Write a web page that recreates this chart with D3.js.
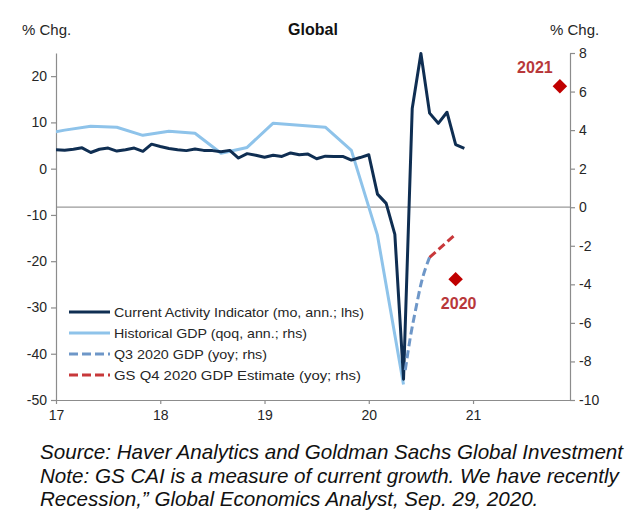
<!DOCTYPE html>
<html><head><meta charset="utf-8">
<script src="https://cdn.jsdelivr.net/npm/d3@7/dist/d3.min.js"></script>
<style>
html,body{margin:0;padding:0;background:#fff;}
svg{display:block;font-family:"Liberation Sans",Arial,sans-serif;}
</style></head>
<body>
<svg id="c" width="630" height="518"></svg>
<script>
// ---- data ----
const xTickValues = [2017, 2018, 2019, 2020, 2021];
const xTickLabels = ["17", "18", "19", "20", "21"];
const leftTicks = [-50, -40, -30, -20, -10, 0, 10, 20];
const rightTicks = [-10, -8, -6, -4, -2, 0, 2, 4, 6, 8];

// Current Activity Indicator, monthly Jan 2017 - Dec 2020 (lhs)
const caiStart = 2017;
const caiValues = [
  4.1, 4.0, 4.2, 4.5, 3.5, 4.2, 4.45, 3.8, 4.1, 4.45, 3.75, 5.3,
  4.8, 4.35, 4.1, 3.9, 4.25, 3.95, 3.9, 3.65, 3.95, 2.3, 3.25, 2.9,
  2.45, 2.9, 2.65, 3.4, 3.0, 3.15, 2.15, 2.7, 2.65, 2.65, 1.85, 2.4,
  3.0, -5.5, -7.5, -14.2, -45.5, 13.0, 24.9, 12.0, 9.8, 12.2, 5.2, 4.4
];
// Historical GDP, quarterly (plotted at mid-quarter month), Q4 2016 - Q2 2020 (rhs)
const gdpDates = [2016.833, 2017.083, 2017.333, 2017.583, 2017.833, 2018.083, 2018.333, 2018.583,
  2018.833, 2019.083, 2019.333, 2019.583, 2019.833, 2020.083, 2020.333];
const gdpValues = [3.75, 4.0, 4.2, 4.15, 3.73, 3.94, 3.84, 2.8, 3.1, 4.36, 4.25, 4.15, 2.95, -1.45, -9.2];
// Q3 2020 GDP (yoy; rhs)
const q3Dates = [2020.35, 2020.40, 2020.45, 2020.50, 2020.583];
const q3Values = [-8.45, -6.7, -5.3, -4.0, -2.6];
// GS Q4 2020 GDP estimate (yoy; rhs)
const q4Dates = [2020.583, 2020.667, 2020.833];
const q4Values = [-2.6, -2.2, -1.4];
// Annual markers (rhs)
const annualLabels = ["2020", "2021"];
const annualDates = [2020.833, 2021.833];
const annualValues = [-3.73, 6.27];

const legendLabels = [
  "Current Activity Indicator (mo, ann.; lhs)",
  "Historical GDP (qoq, ann.; rhs)",
  "Q3 2020 GDP (yoy; rhs)",
  "GS Q4 2020 GDP Estimate (yoy; rhs)"
];
const footerLines = [
  "Source: Haver Analytics and Goldman Sachs Global Investment",
  "Note: GS CAI is a measure of current growth. We have recently",
  "Recession,\u201d Global Economics Analyst, Sep. 29, 2020."
];

// ---- chart ----
const svg = d3.select("#c");
const L = 56, R = 570, T = 53, B = 400;
const x = d3.scaleLinear().domain([2017, 2021.93]).range([L, R]);
const yL = d3.scaleLinear().domain([-50, 25]).range([B, T]);
const yR = d3.scaleLinear().domain([-10, 8]).range([B, T]);

const axisColor = "#8c8c8c";
const textColor = "#262626";

svg.append("defs").append("clipPath").attr("id", "clip")
  .append("rect").attr("x", L).attr("y", 0).attr("width", R - L).attr("height", B);

// zero line (rhs)
svg.append("line").attr("x1", L).attr("x2", R).attr("y1", yR(0)).attr("y2", yR(0))
  .attr("stroke", "#9a9a9a").attr("stroke-width", 1.2);

function styleAxis(g) {
  g.selectAll("path,line").attr("stroke", axisColor).attr("stroke-width", 1.2);
  g.selectAll("text").attr("fill", textColor).style("font-size", "14px")
    .style("font-family", "'Liberation Sans', Arial, sans-serif");
}
const plain = d => String(d);

const gl = svg.append("g").attr("transform", `translate(${L},0)`)
  .call(d3.axisLeft(yL).tickValues(leftTicks).tickFormat(plain).tickSize(5).tickSizeOuter(0).tickPadding(4));
styleAxis(gl);
const gr = svg.append("g").attr("transform", `translate(${R},0)`)
  .call(d3.axisRight(yR).tickValues(rightTicks).tickFormat(plain).tickSize(5).tickSizeOuter(0).tickPadding(4));
styleAxis(gr);
const gb = svg.append("g").attr("transform", `translate(0,${B})`)
  .call(d3.axisBottom(x).tickValues(xTickValues).tickFormat((d, i) => xTickLabels[i])
    .tickSize(4).tickSizeOuter(0).tickPadding(6));
styleAxis(gb);

const plot = svg.append("g").attr("clip-path", "url(#clip)");

const caiData = caiValues.map((v, i) => ({ t: caiStart + i / 12, v }));
const gdpData = gdpDates.map((t, i) => ({ t, v: gdpValues[i] }));
const q3Data = q3Dates.map((t, i) => ({ t, v: q3Values[i] }));
const q4Data = q4Dates.map((t, i) => ({ t, v: q4Values[i] }));

const lineL = d3.line().x(d => x(d.t)).y(d => yL(d.v));
const lineR = d3.line().x(d => x(d.t)).y(d => yR(d.v));
const lineRs = d3.line().x(d => x(d.t)).y(d => yR(d.v)).curve(d3.curveMonotoneX);

const cNavy = "#0f2e52", cLight = "#8ec3ea", cDashBlue = "#6e97c8", cRed = "#c8383a", cDiamond = "#c00000";

plot.append("path").datum(gdpData).attr("d", lineR).attr("fill", "none")
  .attr("stroke", cLight).attr("stroke-width", 3).attr("stroke-linejoin", "round");
plot.append("path").datum(caiData).attr("d", lineL).attr("fill", "none")
  .attr("stroke", cNavy).attr("stroke-width", 3).attr("stroke-linejoin", "round");
plot.append("path").datum(q3Data).attr("d", lineRs).attr("fill", "none")
  .attr("stroke", cDashBlue).attr("stroke-width", 3).attr("stroke-dasharray", "8,4");
plot.append("path").datum(q4Data).attr("d", lineRs).attr("fill", "none")
  .attr("stroke", cRed).attr("stroke-width", 3).attr("stroke-dasharray", "8,4");

// diamonds
const diamond = d3.symbol().type(d3.symbolSquare).size(105);
annualDates.forEach((t, i) => {
  svg.append("path").attr("d", diamond())
    .attr("transform", `translate(${x(t)},${yR(annualValues[i])}) rotate(45)`)
    .attr("fill", cDiamond);
});
// annual labels
svg.append("text").attr("x", x(annualDates[0]) + 3).attr("y", yR(annualValues[0]) + 30)
  .attr("text-anchor", "middle").attr("fill", "#b8383a").style("font-size", "16px").style("font-weight", "bold")
  .text(annualLabels[0]);
svg.append("text").attr("x", x(annualDates[1]) - 25).attr("y", yR(annualValues[1]) - 13)
  .attr("text-anchor", "middle").attr("fill", "#b8383a").style("font-size", "16px").style("font-weight", "bold")
  .text(annualLabels[1]);

// titles
svg.append("text").attr("x", 313).attr("y", 35).attr("text-anchor", "middle")
  .attr("fill", "#111").style("font-size", "16px").style("font-weight", "bold").text("Global");
svg.append("text").attr("x", 22).attr("y", 35).attr("fill", textColor).style("font-size", "15px").text("% Chg.");
svg.append("text").attr("x", 550).attr("y", 35).attr("fill", textColor).style("font-size", "15px").text("% Chg.");

// legend
const legColors = [cNavy, cLight, cDashBlue, cRed];
const legDash = [null, null, "9,4", "9,4"];
const legWidths = [250, 193, 153, 247];
const legY0 = 312, legDy = 21;
legendLabels.forEach((lab, i) => {
  const yy = legY0 + i * legDy;
  const ln = svg.append("line").attr("x1", 69).attr("x2", 110).attr("y1", yy).attr("y2", yy)
    .attr("stroke", legColors[i]).attr("stroke-width", 3);
  if (legDash[i]) ln.attr("stroke-dasharray", legDash[i]);
  svg.append("text").attr("x", 114).attr("y", yy + 5).attr("fill", textColor)
    .style("font-size", "13.5px").attr("textLength", legWidths[i]).attr("lengthAdjust", "spacingAndGlyphs")
    .text(lab);
});

// footer
footerLines.forEach((t, i) => {
  svg.append("text").attr("x", 40).attr("y", 459 + i * 23.5).attr("fill", "#111")
    .style("font-size", "20.6px").style("font-style", "italic").text(t);
});
</script>
</body></html>
